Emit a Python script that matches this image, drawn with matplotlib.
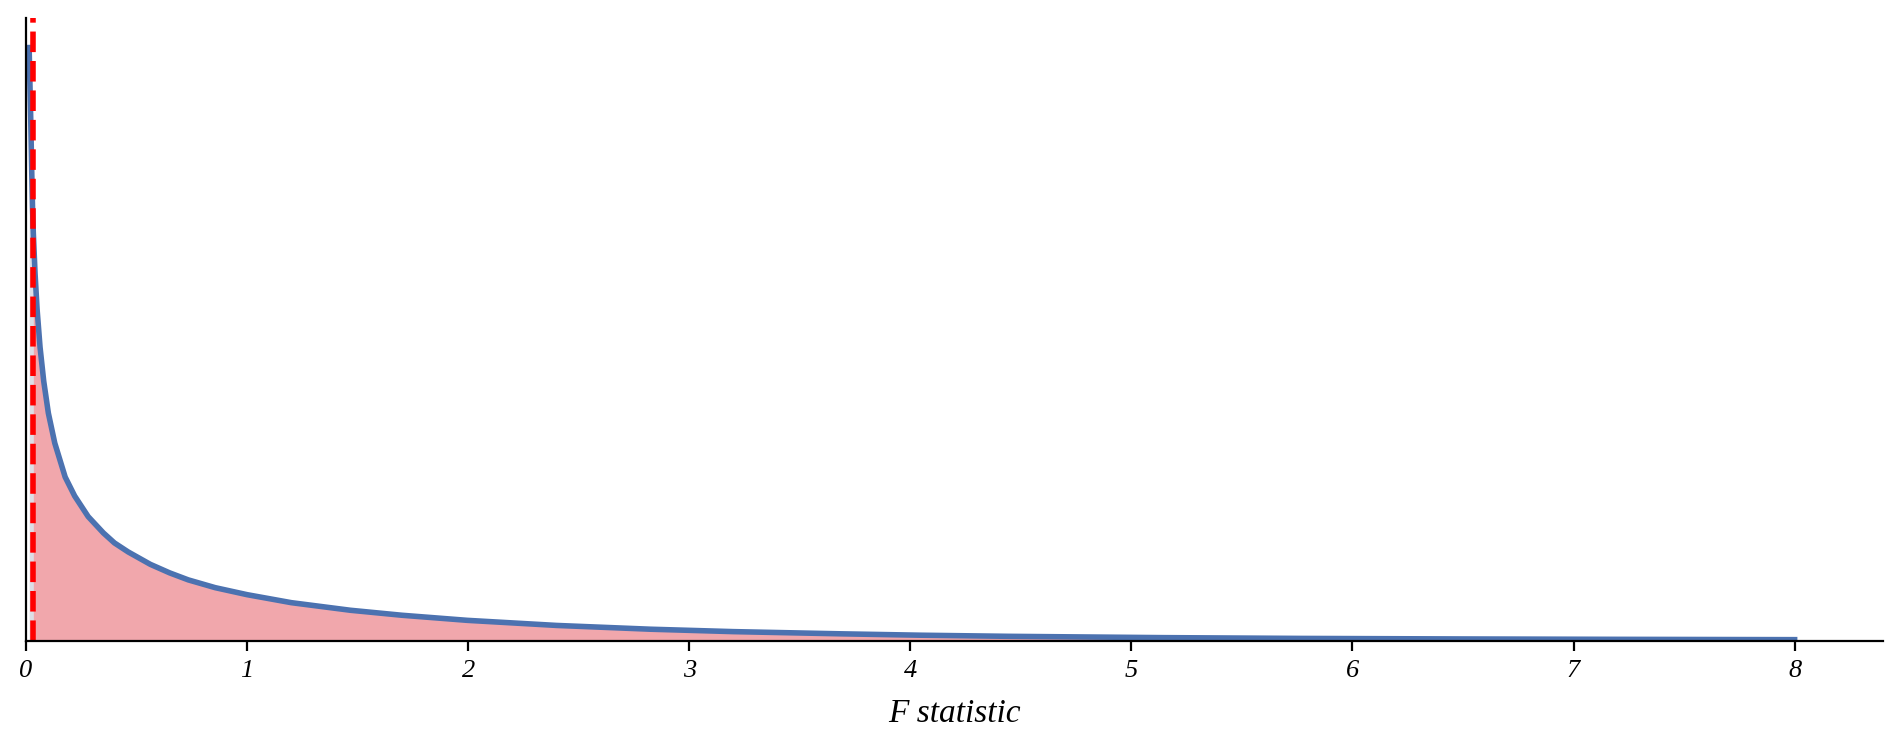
import numpy as np
import matplotlib
matplotlib.use('Agg')
import matplotlib.pyplot as plt

# F statistic values and density
f_vals = [0.014, 0.0213, 0.026, 0.0294, 0.033, 0.0408, 0.05, 0.0634,
          0.08, 0.101, 0.13, 0.177, 0.22, 0.281, 0.35, 0.40, 0.462, 0.562, 0.65,
          0.734, 0.856, 1.0, 1.2, 1.467, 1.7, 1.996, 2.4, 2.826, 3.2, 3.687,
          4.05, 4.443, 5.136, 5.77, 6.5, 7.2, 8.0]
density = [2.97, 2.61, 2.34, 2.17, 2.04, 1.84, 1.66, 1.47,
           1.30, 1.14, 0.99, 0.82, 0.725, 0.622, 0.54, 0.49, 0.445, 0.383, 0.340,
           0.305, 0.266, 0.231, 0.191, 0.153, 0.128, 0.1025, 0.077, 0.058, 0.046, 0.035,
           0.028, 0.0225, 0.016, 0.012, 0.0093, 0.0074, 0.0058]
f_observed = 0.033  # dashed red line

x = np.array(f_vals)
y = np.array(density)

fig, ax = plt.subplots(figsize=(9.5, 3.73), dpi=200)

# area left of the observed value (grey) and right of it (red)
ax.fill_between(x, y, where=x <= f_observed, color='#dcdfe7', interpolate=True, lw=0)
ax.fill_between(x, y, where=x >= f_observed, color='#f1a7ac', interpolate=True, lw=0)
ax.plot(x, y, color='#4c72b0', lw=2, solid_joinstyle='round')
ax.axvline(f_observed, color='red', ls='--', lw=2)

ax.set_xlim(left=0)
ax.set_ylim(bottom=0)
ax.set_yticks([])
ax.spines['top'].set_visible(False)
ax.spines['right'].set_visible(False)

ax.set_xlabel('F statistic', family='Liberation Serif', style='italic', fontsize=12, labelpad=6)
for lbl in ax.get_xticklabels():
    lbl.set_family('Liberation Serif')
    lbl.set_style('italic')
    lbl.set_fontsize(9.5)

fig.subplots_adjust(left=0.0137, right=0.991, bottom=0.141, top=0.976)
fig.savefig('out.png', dpi=200)
